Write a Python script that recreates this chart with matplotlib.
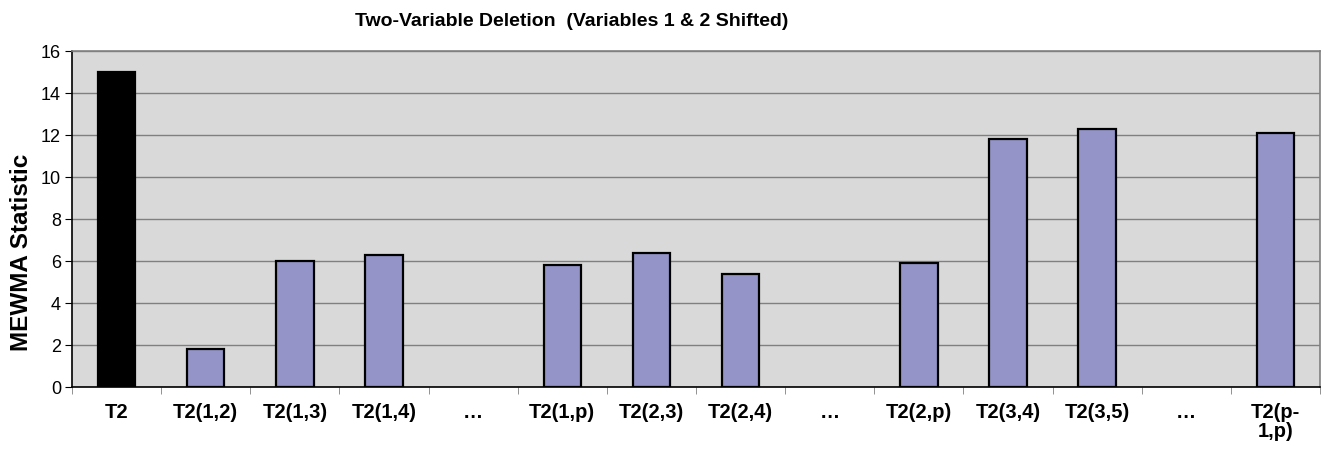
import numpy as np
import matplotlib
matplotlib.use("Agg")
import matplotlib.pyplot as plt

plt.rcParams['font.family'] = ['Liberation Sans', 'DejaVu Sans']

# chart data
labels = ['T2', 'T2(1,2)', 'T2(1,3)', 'T2(1,4)', '…', 'T2(1,p)', 'T2(2,3)',
          'T2(2,4)', '…', 'T2(2,p)', 'T2(3,4)', 'T2(3,5)', '…', 'T2(p-\n1,p)']
values = [15.0, 1.8, 6.0, 6.3, 0, 5.8, 6.4, 5.4, 0, 5.9, 11.8, 12.3, 0, 12.1]
colors = ['black'] + ['#9494C8'] * (len(values) - 1)

W, H = 1322, 452
fig = plt.figure(figsize=(W / 100, H / 100), dpi=100)
ax = fig.add_axes([72 / W, 1 - 388 / H, (1320 - 72) / W, (388 - 52) / H])
ax.set_facecolor('#D9D9D9')

x = np.arange(len(values))
for xi, v, c in zip(x, values, colors):
    if v > 0:
        ax.bar(xi, v, width=0.42, color=c, edgecolor='black', linewidth=1.6, zorder=3)

ax.set_xlim(-0.5, len(values) - 0.5)
ax.set_ylim(0, 16)
ax.set_yticks(range(0, 17, 2))
ax.yaxis.grid(True, color='#808080', linewidth=1, zorder=1)
ax.set_axisbelow(True)

ax.set_xticks(x)
ax.set_xticklabels(labels, fontsize=14.5, fontweight='bold', va='top', linespacing=1.0)
ax.tick_params(axis='x', which='major', length=0, pad=11)
ax.set_xticks(np.arange(-0.5, len(values), 1), minor=True)
ax.tick_params(axis='x', which='minor', length=5, color='#808080')
ax.tick_params(axis='y', labelsize=13, length=5, pad=3, color='black')

ax.spines['top'].set_color('#808080')
ax.spines['right'].set_color('#808080')
ax.spines['left'].set_color('black')
ax.spines['bottom'].set_color('black')
for s in ax.spines.values():
    s.set_linewidth(1.2)

fig.text(22 / W, 1 - 252 / H, 'MEWMA Statistic', fontsize=17.5, fontweight='bold',
         rotation=90, ha='center', va='center')
fig.text(572 / W, 1 - 21 / H, 'Two-Variable Deletion  (Variables 1 & 2 Shifted)',
         fontsize=14, fontweight='bold', ha='center', va='center')

fig.savefig('out.png', dpi=100)
